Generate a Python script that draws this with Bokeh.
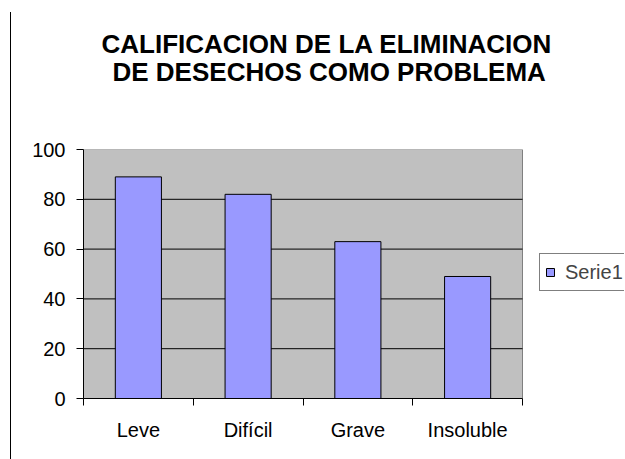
from bokeh.plotting import figure
from bokeh.models import Range1d, FixedTicker, Legend, LegendItem, Div, ColumnDataSource, Title
from bokeh.layouts import row
from bokeh.embed import file_html
from bokeh.resources import INLINE

categories = ["Leve", "Difícil", "Grave", "Insoluble"]
values = [89, 82, 63, 49]
y_ticks = [0, 20, 40, 60, 80, 100]
grid_ticks = [20, 40, 60, 80]
series_name = "Serie1"
title_lines = ["CALIFICACION DE LA ELIMINACION", "DE DESECHOS COMO PROBLEMA"]

FONT = "Liberation Sans"
n = len(categories)
y_max = y_ticks[-1]
xs = [i + 0.5 for i in range(n)]
src = ColumnDataSource(dict(x=xs, top=values, cat=categories))

# layout: figure 613 wide; frame spans from 72px to the right canvas edge,
# plot area (categories) occupies the first 439px of it; the rest holds the legend
FIG_W, FIG_H = 613, 459
BORDER_L = 72
FRAME_W = FIG_W - BORDER_L
PLOT_W = 439
x_end = n * FRAME_W / PLOT_W

p = figure(width=FIG_W, height=FIG_H, x_range=Range1d(0, x_end), y_range=Range1d(0, y_max),
           output_backend="svg", toolbar_location=None, title=None,
           min_border_left=BORDER_L, min_border_right=0, min_border_top=149, min_border_bottom=61,
           background_fill_color="white", border_fill_color="white",
           outline_line_color=None)

# title: a blank spacer panel next to the frame, then the two title lines
for txt, off, so in [(" ", 0, 31), (title_lines[1], 29, 0), (title_lines[0], 18, -9)]:
    t = Title(text=txt, align="left", offset=off, standoff=so,
              text_font=FONT, text_font_size="26px", text_font_style="bold",
              text_color="black")
    p.add_layout(t, "above")

# plot area background
p.quad(left=[0], right=[n], bottom=[0], top=[y_max], fill_color="#C0C0C0",
       line_color="#808080", line_width=1)
# gridlines
p.segment(x0=[0] * len(grid_ticks), x1=[n] * len(grid_ticks), y0=grid_ticks, y1=grid_ticks,
          line_color="black", line_width=1)

r = p.vbar(x="x", top="top", width=0.42, source=src, fill_color="#9999FF",
           line_color="black", line_width=1)

# axes
p.yaxis.ticker = FixedTicker(ticks=y_ticks, minor_ticks=[])
p.yaxis.major_tick_out = 7
p.yaxis.major_tick_in = 0
p.yaxis.minor_tick_out = 0
p.yaxis.minor_tick_in = 0
p.yaxis.major_label_standoff = 11
p.yaxis.axis_line_color = "black"
p.yaxis.major_tick_line_color = "black"

p.xaxis.bounds = (0, n)
p.xaxis.ticker = FixedTicker(ticks=xs, minor_ticks=list(range(n + 1)))
p.xaxis.major_label_overrides = {x: c for x, c in zip(xs, categories)}
p.xaxis.major_tick_out = 0
p.xaxis.major_tick_in = 0
p.xaxis.minor_tick_out = 7
p.xaxis.minor_tick_in = 0
p.xaxis.minor_tick_line_color = "black"
p.xaxis.major_label_standoff = 13
p.xaxis.axis_line_color = "black"

for ax in (p.xaxis, p.yaxis):
    ax.major_label_text_font = FONT
    ax.major_label_text_font_size = "20px"
    ax.major_label_text_color = "black"

p.xgrid.visible = False
p.ygrid.visible = False

legend = Legend(items=[LegendItem(label=series_name, renderers=[r])],
                location=(456, 107), orientation="vertical",
                border_line_color="black", border_line_width=1,
                background_fill_color="white", background_fill_alpha=1,
                label_text_font=FONT, label_text_font_size="20px",
                glyph_width=10, glyph_height=10, label_standoff=10, label_height=26,
                padding=5, margin=0, spacing=0)
p.add_layout(legend)

line = Div(text="", width=11, height=447, margin=(12, 0, 0, 0),
           styles={"border-right": "1px solid black"})

layout = row(line, p)
open("out.html", "w").write(file_html(layout, INLINE))
